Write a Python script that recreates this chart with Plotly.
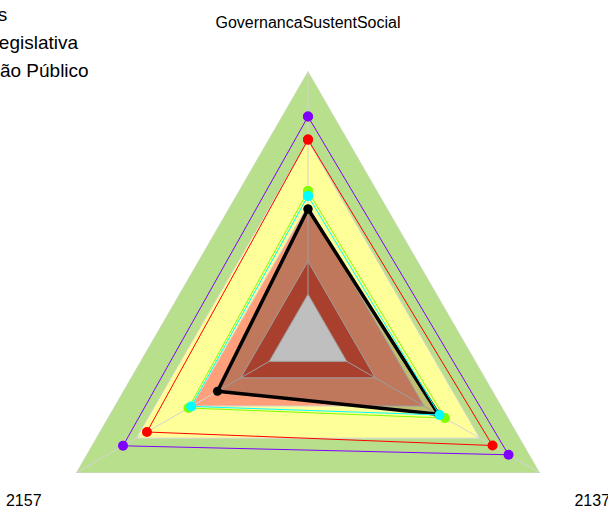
import plotly.graph_objects as go

# eixos do radar
categorias = ["GovernancaSustentSocial", "2157", "2137"]

# faixas de fundo (do maior para o menor)
faixas_nivel = [1.0, 0.74, 0.5, 0.29, 0.167]
faixas_cor = ["#B8E08C", "#FFFF99", "#FFA07A", "#E0563C", "#FFFFFF"]

# series
media = [0.485, 0.39, 0.562]
prefeituras = [0.744, 0.694, 0.795]
camara = [0.552, 0.515, 0.590]
orgao = [0.534, 0.503, 0.567]
outros = [0.83, 0.797, 0.864]

fig = go.Figure()

theta_fechado = categorias + [categorias[0]]

# faixas coloridas
for nivel, cor in zip(faixas_nivel, faixas_cor):
    fig.add_trace(go.Scatterpolar(
        r=[nivel] * 4, theta=theta_fechado, mode="lines",
        fill="toself", fillcolor=cor,
        line=dict(color="#D3D3D3", width=1),
        showlegend=False, hoverinfo="skip"))

# raios
r_raios, t_raios = [], []
for c in categorias:
    r_raios += [faixas_nivel[-1], faixas_nivel[0], None]
    t_raios += [c, c, None]
fig.add_trace(go.Scatterpolar(
    r=r_raios, theta=t_raios, mode="lines",
    line=dict(color="#D3D3D3", width=1),
    showlegend=False, hoverinfo="skip"))

# serie preta preenchida
fig.add_trace(go.Scatterpolar(
    r=media + [media[0]], theta=theta_fechado, name="Média",
    mode="lines+markers", fill="toself", fillcolor="rgba(0,0,0,0.25)",
    line=dict(color="black", width=3.5), marker=dict(size=9, color="black"),
    showlegend=False))

series = [
    ("Prefeituras", prefeituras, "#FF0000", True),
    ("Câmara Legislativa", camara, "#80FF00", True),
    ("Outro Órgão Público", orgao, "#00FFFF", True),
    ("Outros", outros, "#8000FF", False),
]
for nome, vals, cor, leg in series:
    fig.add_trace(go.Scatterpolar(
        r=vals + [vals[0]], theta=theta_fechado, name=nome,
        mode="lines+markers",
        line=dict(color=cor, width=1), marker=dict(size=10, color=cor),
        showlegend=leg))

fig.update_layout(
    width=608, height=620,
    margin=dict(l=40, r=32, t=71, b=13, autoexpand=False),
    paper_bgcolor="white",
    font=dict(family="Liberation Sans, Arial, sans-serif", color="black"),
    polar=dict(
        bgcolor="white",
        gridshape="linear",
        radialaxis=dict(visible=False, range=[0, 1]),
        angularaxis=dict(
            type="category", categoryarray=categorias,
            rotation=90, direction="counterclockwise",
            showgrid=False, showline=False,
            ticks="outside", ticklen=36, tickcolor="rgba(0,0,0,0)",
            tickfont=dict(size=16, color="black"),
        ),
    ),
    legend=dict(x=-0.307, y=1.142, xanchor="left", yanchor="top",
                font=dict(size=19), bgcolor="rgba(0,0,0,0)"),
)

fig.write_html(
    "out.html",
    config={"displayModeBar": False},
    post_script="document.body.style.margin='0';document.body.style.overflow='hidden';",
)
